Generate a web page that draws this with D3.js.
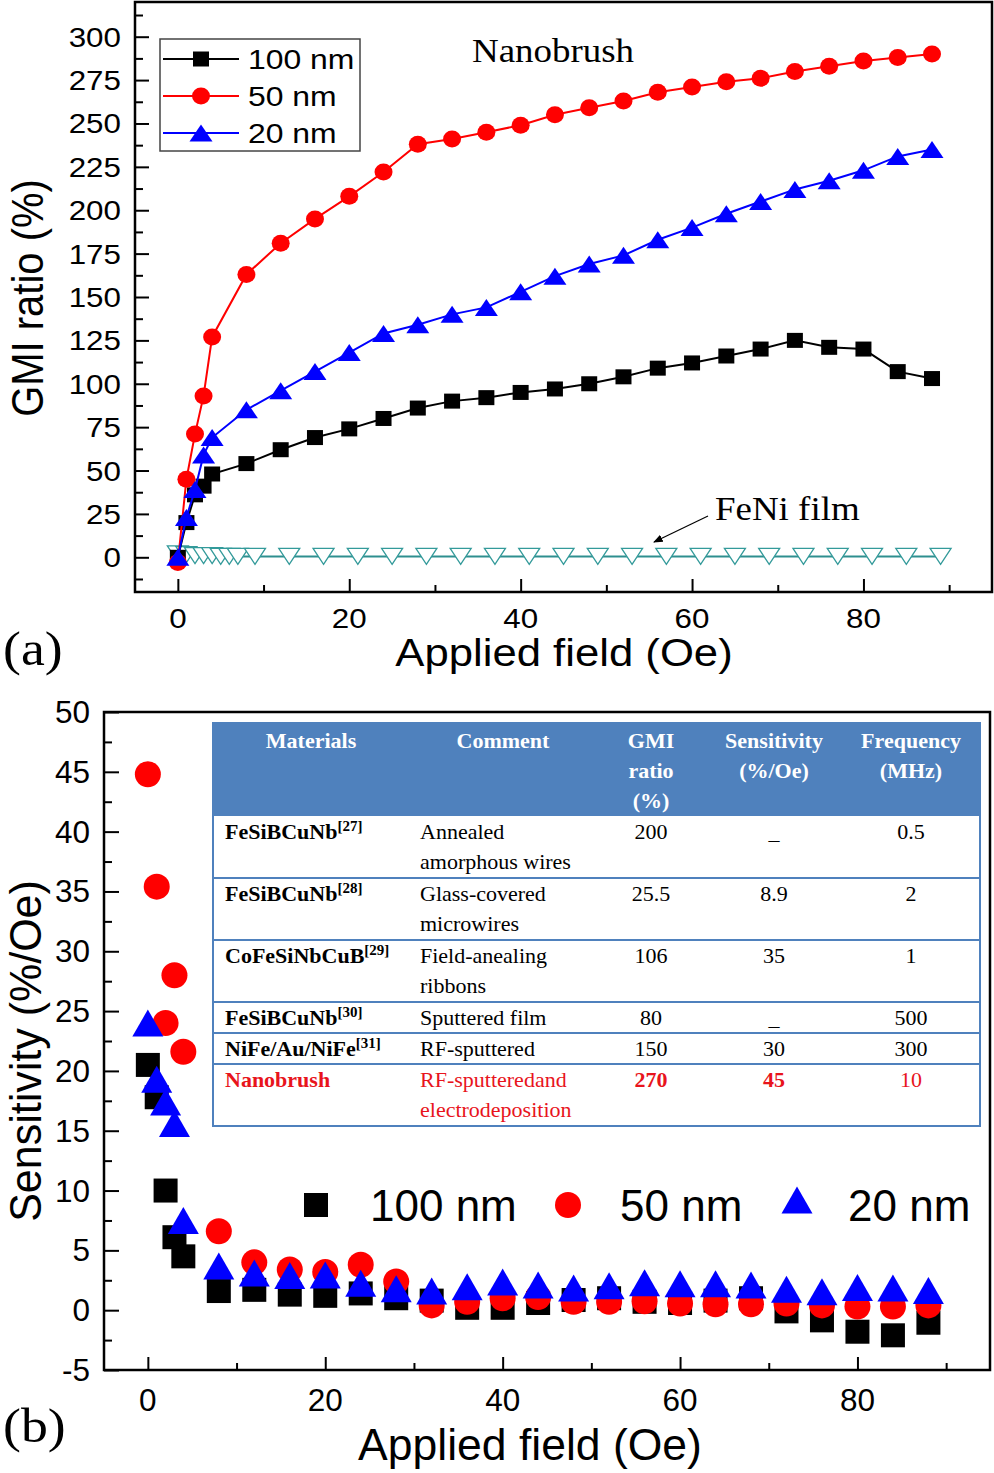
<!DOCTYPE html>
<html><head><meta charset="utf-8">
<script src="https://cdn.jsdelivr.net/npm/d3@7"></script>
<style>html,body{margin:0;padding:0;background:#fff;}svg{display:block;}</style>
</head><body>
<svg id="c" width="994" height="1473"></svg>
<script>
// ---------------- DATA ----------------
// Panel (a): GMI ratio vs applied field
const fieldA = [0,1,2,3,4,8,12,16,20,24,28,32,36,40,44,48,52,56,60,64,68,72,76,80,84,88];
const gmi100 = [0,20,36,41,48,54,62,69,74,80,86,90,92,95,97,100,104,109,112,116,120,125,121,120,107,103];
const gmi50  = [-3,45,71,93,127,163,181,195,208,222,238,241,245,249,255,259,263,268,271,274,276,280,283,286,288,290];
const gmi20  = [0,23,39,59,69,85,96,107,118,129,134,140,144,153,162,169,174,183,190,198,205,212,217,223,231,235];
const fieldFeNi = [0,1,2,3,4,5,6,7,9,13,17,21,25,29,33,37,41,45,49,53,57,61,65,69,73,77,81,85,89];
const gmiFeNi   = [2,1.5,1,1,1,0.5,0.5,0.5,0.5,0.5,0.5,0.5,0.5,0.5,0.5,0.5,0.5,0.5,0.5,0.5,0.5,0.5,0.5,0.5,0.5,0.5,0.5,0.5,0.5];
const seriesNamesA = ["100 nm","50 nm","20 nm"];
const yTicksA = [0,25,50,75,100,125,150,175,200,225,250,275,300];
const xTicksA = [0,20,40,60,80];

// Panel (b): sensitivity vs applied field
const fieldB = [0,1,2,3,4,8,12,16,20,24,28,32,36,40,44,48,52,56,60,64,68,72,76,80,84,88];
const sens100 = [20.5,17.8,10,6.1,4.5,1.6,1.7,1.3,1.2,1.4,1.0,0.8,0.2,0.2,0.6,0.85,1.0,0.7,0.6,0.8,1.0,-0.1,-0.85,-1.8,-2.1,-1.05];
const sens50  = [44.8,35.4,24,28,21.6,6.6,4.0,3.4,3.2,3.8,2.4,0.4,0.7,1.0,1.1,0.7,0.7,0.75,0.55,0.5,0.5,0.55,0.4,0.3,0.3,0.4];
const sens20  = [24,19.3,17.4,15.6,7.5,3.7,3.1,2.9,2.95,2.25,1.8,1.6,1.95,2.35,2.1,1.85,2.05,2.3,2.2,2.2,2.1,1.75,1.55,1.9,1.85,1.65];
const yTicksB = [-5,0,5,10,15,20,25,30,35,40,45,50];
const xTicksB = [0,20,40,60,80];

// Inset table
const tblHeader = [["Materials"],["Comment"],["GMI","ratio","(%)"],["Sensitivity","(%/Oe)"],["Frequency","(MHz)"]];
const tblMaterials = ["FeSiBCuNb","FeSiBCuNb","CoFeSiNbCuB","FeSiBCuNb","NiFe/Au/NiFe","Nanobrush"];
const tblRefs = ["[27]","[28]","[29]","[30]","[31]",""];
const tblComments = [["Annealed","amorphous wires"],["Glass-covered","microwires"],["Field-anealing","ribbons"],["Sputtered film"],["RF-sputtered"],["RF-sputteredand","electrodeposition"]];
const tblGMI = ["200","25.5","106","80","150","270"];
const tblSens = ["_","8.9","35","_","30","45"];
const tblFreq = ["0.5","2","1","500","300","10"];

// ---------------- HELPERS ----------------
const svg = d3.select("#c");
const SANS = "'Liberation Sans', Arial, sans-serif";
const SERIF = "'Liberation Serif', 'Times New Roman', serif";

function T(parent, x, y, s, o) {
  o = Object.assign({size:20, family:SANS, anchor:"start", sx:1, weight:"normal", fill:"#000", rot:false}, o||{});
  let tr = `translate(${x},${y}) scale(${o.sx},1)` + (o.rot ? " rotate(-90)" : "");
  const t = parent.append("text").attr("transform", tr)
    .attr("font-family", o.family).attr("font-size", o.size)
    .attr("font-weight", o.weight).attr("fill", o.fill)
    .attr("text-anchor", o.anchor);
  if (o.dy) t.attr("dy", o.dy);
  t.text(s);
  return t;
}
function triUp(w,h){ return `M0,${-h/2}L${w/2},${h/2}L${-w/2},${h/2}Z`; }
function triDown(w,h){ return `M0,${h/2}L${w/2},${-h/2}L${-w/2},${-h/2}Z`; }

// ---------------- PANEL (a) ----------------
const A = {l:135, r:992, t:2, b:592};
const xA = d3.scaleLinear().domain([-5,95]).range([A.l, A.r]);
const yA = d3.scaleLinear().domain([-20,320]).range([A.b, A.t]);
const gA = svg.append("g");
const sxA = 1.12;

// ticks (inward)
const yMinorA = d3.range(-12.5, 320, 12.5).filter(v => !yTicksA.includes(v) && v > -20);
gA.append("g").attr("transform",`translate(${A.l},0)`)
  .call(d3.axisLeft(yA).tickValues(yTicksA).tickSize(-14).tickFormat(""))
  .call(g=>g.select(".domain").remove()).selectAll("line").attr("stroke","#000").attr("stroke-width",2);
gA.append("g").attr("transform",`translate(${A.l},0)`)
  .call(d3.axisLeft(yA).tickValues(yMinorA).tickSize(-8).tickFormat(""))
  .call(g=>g.select(".domain").remove()).selectAll("line").attr("stroke","#000").attr("stroke-width",2);
const xMinorA = [10,30,50,70,90];
gA.append("g").attr("transform",`translate(0,${A.b})`)
  .call(d3.axisBottom(xA).tickValues(xTicksA).tickSize(-13).tickFormat(""))
  .call(g=>g.select(".domain").remove()).selectAll("line").attr("stroke","#000").attr("stroke-width",2);
gA.append("g").attr("transform",`translate(0,${A.b})`)
  .call(d3.axisBottom(xA).tickValues(xMinorA).tickSize(-7).tickFormat(""))
  .call(g=>g.select(".domain").remove()).selectAll("line").attr("stroke","#000").attr("stroke-width",2);

// tick labels
yTicksA.forEach(v => T(gA, 121, yA(v)+10, String(v), {size:28, anchor:"end", sx:sxA}));
xTicksA.forEach(v => T(gA, xA(v), 628, String(v), {size:28, anchor:"middle", sx:sxA}));
T(gA, 564, 666, "Applied field (Oe)", {size:39, anchor:"middle", sx:sxA});
T(gA, 43, 298, "GMI ratio (%)", {size:40, anchor:"middle", sx:sxA, rot:true});
T(gA, 3, 665, "(a)", {size:48, family:SERIF, sx:sxA});

// series
const lineA = d3.line().x(d=>xA(d[0])).y(d=>yA(d[1]));
const feni = fieldFeNi.map((x,i)=>[x,gmiFeNi[i]]);
gA.append("path").attr("d", lineA(feni)).attr("fill","none").attr("stroke","#2e8f8f").attr("stroke-width",2);
gA.selectAll(".fe").data(feni).enter().append("path")
  .attr("transform", d=>`translate(${xA(d[0])},${yA(d[1])})`)
  .attr("d", triDown(21,16)).attr("fill","#fff").attr("stroke","#339a9a").attr("stroke-width",1.3);

const sA = [
  {vals:gmi100, color:"#000000", shape:"sq"},
  {vals:gmi50, color:"#ff0000", shape:"ci"},
  {vals:gmi20, color:"#0000ff", shape:"tr"}
];
function markerA(g, shape, color, x, y){
  if (shape==="sq") g.append("rect").attr("x",x-8).attr("y",y-7.5).attr("width",16).attr("height",15).attr("fill",color);
  else if (shape==="ci") g.append("ellipse").attr("cx",x).attr("cy",y).attr("rx",9).attr("ry",8.5).attr("fill",color);
  else g.append("path").attr("transform",`translate(${x},${y})`).attr("d",triUp(23,17)).attr("fill",color);
}
sA.forEach(s => {
  const pts = fieldA.map((x,i)=>[x,s.vals[i]]);
  gA.append("path").attr("d", lineA(pts)).attr("fill","none").attr("stroke",s.color).attr("stroke-width",2);
  pts.forEach(p => markerA(gA, s.shape, s.color, xA(p[0]), yA(p[1])));
});

// frame
gA.append("rect").attr("x",A.l).attr("y",A.t).attr("width",A.r-A.l).attr("height",A.b-A.t)
  .attr("fill","none").attr("stroke","#000").attr("stroke-width",2.5);

// legend
gA.append("rect").attr("x",160).attr("y",39).attr("width",200).attr("height",112)
  .attr("fill","#fff").attr("stroke","#444").attr("stroke-width",1.5);
sA.forEach((s,i) => {
  const yy = 59 + i*37;
  gA.append("line").attr("x1",163).attr("x2",239).attr("y1",yy).attr("y2",yy).attr("stroke",s.color).attr("stroke-width",2);
  markerA(gA, s.shape, s.color, 201, yy);
  T(gA, 248, yy+10, seriesNamesA[i], {size:28.5, sx:sxA});
});

// annotations
T(gA, 472, 62, "Nanobrush", {size:33, family:SERIF, sx:sxA});
T(gA, 715, 520, "FeNi film", {size:33, family:SERIF, sx:sxA});
svg.append("defs").append("marker").attr("id","arr").attr("viewBox","0 0 10 10").attr("refX",9).attr("refY",5)
  .attr("markerWidth",8).attr("markerHeight",8).attr("orient","auto-start-reverse")
  .append("path").attr("d","M0,1L10,5L0,9Z").attr("fill","#000");
gA.append("line").attr("x1",708).attr("y1",516).attr("x2",654).attr("y2",542)
  .attr("stroke","#000").attr("stroke-width",1.2).attr("marker-end","url(#arr)");

// ---------------- PANEL (b) ----------------
const B = {l:104, r:990, t:712, b:1370};
const xB = d3.scaleLinear().domain([-5,95]).range([103.5, 990.5]);
const yB = d3.scaleLinear().domain([-5,50]).range([B.b, B.t]);
const gB = svg.append("g");

const yMinorB = [-2.5,2.5,7.5,12.5,17.5,22.5,27.5,32.5,37.5,42.5,47.5];
gB.append("g").attr("transform",`translate(${B.l},0)`)
  .call(d3.axisLeft(yB).tickValues(yTicksB).tickSize(-15).tickFormat(""))
  .call(g=>g.select(".domain").remove()).selectAll("line").attr("stroke","#000").attr("stroke-width",2);
gB.append("g").attr("transform",`translate(${B.l},0)`)
  .call(d3.axisLeft(yB).tickValues(yMinorB).tickSize(-8).tickFormat(""))
  .call(g=>g.select(".domain").remove()).selectAll("line").attr("stroke","#000").attr("stroke-width",2);
const xMinorB = [10,30,50,70,90];
gB.append("g").attr("transform",`translate(0,${B.b})`)
  .call(d3.axisBottom(xB).tickValues(xTicksB).tickSize(-13).tickFormat(""))
  .call(g=>g.select(".domain").remove()).selectAll("line").attr("stroke","#000").attr("stroke-width",2);
gB.append("g").attr("transform",`translate(0,${B.b})`)
  .call(d3.axisBottom(xB).tickValues(xMinorB).tickSize(-7).tickFormat(""))
  .call(g=>g.select(".domain").remove()).selectAll("line").attr("stroke","#000").attr("stroke-width",2);

yTicksB.forEach(v => T(gB, 90, yB(v)+11, String(v), {size:31.5, anchor:"end"}));
xTicksB.forEach(v => T(gB, xB(v), 1411, String(v), {size:31.5, anchor:"middle"}));
T(gB, 530, 1460, "Applied field (Oe)", {size:44.5, anchor:"middle"});
T(gB, 41, 1051, "Sensitivity (%/Oe)", {size:43, anchor:"middle", rot:true, sx:1.02});
T(gB, 3, 1442, "(b)", {size:48, family:SERIF, sx:1.12});

// table
const tb = gB.append("g");
const TL = 213, TR = 980, TT = 723, LH = 31;
const colCenter = [311, 503, 651, 774, 911];
const colLeft = [225, 420];
const RED = "#e8141c", BLUE = "#4f81bd";
const hdrH = 3*LH;
tb.append("rect").attr("x",TL).attr("y",TT).attr("width",TR-TL).attr("height",hdrH).attr("fill",BLUE);
tblHeader.forEach((lines,c) => lines.forEach((s,k) =>
  T(tb, colCenter[c], TT+25+k*30, s, {size:22, family:SERIF, weight:"bold", fill:"#fff", anchor:"middle"})));
let yy = TT + hdrH;
const rowTops = [];
tblMaterials.forEach((m,r) => {
  const n = tblComments[r].length;
  const h = n*LH;
  rowTops.push(yy);
  const red = (m === "Nanobrush");
  const col = red ? RED : "#000";
  const t = T(tb, colLeft[0], yy+23, m, {size:22, family:SERIF, weight:"bold", fill:col});
  if (tblRefs[r]) t.append("tspan").attr("font-size",15).attr("dy",-8).text(tblRefs[r]);
  tblComments[r].forEach((s,k) => T(tb, colLeft[1], yy+23+k*30, s, {size:22, family:SERIF, fill:col}));
  T(tb, colCenter[2], yy+23, tblGMI[r], {size:22, family:SERIF, anchor:"middle", fill:col, weight: red?"bold":"normal"});
  T(tb, colCenter[3], yy+23, tblSens[r], {size:22, family:SERIF, anchor:"middle", fill:col, weight: red?"bold":"normal"});
  T(tb, colCenter[4], yy+23, tblFreq[r], {size:22, family:SERIF, anchor:"middle", fill:col});
  yy += h;
});
rowTops.slice(1).forEach(y => tb.append("line").attr("x1",TL).attr("x2",TR).attr("y1",y).attr("y2",y).attr("stroke",BLUE).attr("stroke-width",2));
tb.append("rect").attr("x",TL).attr("y",TT).attr("width",TR-TL).attr("height",yy-TT)
  .attr("fill","none").attr("stroke",BLUE).attr("stroke-width",2);

// scatter markers
function markerB(g, shape, color, x, y){
  if (shape==="sq") g.append("rect").attr("x",x-12).attr("y",y-12).attr("width",24).attr("height",24).attr("fill",color);
  else if (shape==="ci") g.append("circle").attr("cx",x).attr("cy",y).attr("r",13).attr("fill",color);
  else g.append("path").attr("transform",`translate(${x},${y})`).attr("d",triUp(31,27)).attr("fill",color);
}
const sB = [
  {vals:sens100, color:"#000000", shape:"sq"},
  {vals:sens50, color:"#ff0000", shape:"ci"},
  {vals:sens20, color:"#0000ff", shape:"tr"}
];
sB.forEach(s => fieldB.forEach((x,i) => markerB(gB, s.shape, s.color, xB(x), yB(s.vals[i]))));

// legend b
const legX = [316, 568, 797], legT = [370, 620, 848];
sB.forEach((s,i) => {
  markerB(gB, s.shape, s.color, legX[i], s.shape==="tr" ? 1200 : 1205);
  T(gB, legT[i], 1221, seriesNamesA[i], {size:44});
});

gB.append("rect").attr("x",B.l).attr("y",B.t).attr("width",B.r-B.l).attr("height",B.b-B.t)
  .attr("fill","none").attr("stroke","#000").attr("stroke-width",2.5);
</script>
</body></html>
